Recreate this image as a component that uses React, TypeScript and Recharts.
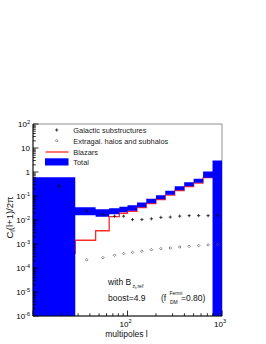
import React from "react";
import {
  ComposedChart,
  Area,
  Scatter,
  XAxis,
  YAxis,
  ReferenceArea,
} from "recharts";

// multipole bin edges: width 18 up to l=100, then 0.1 dex
const binEdges = [10, 28, 46, 64, 82, 100, 126, 158, 200, 251, 316, 398, 501, 631, 794, 1000];

// Total: blue error band, lower / upper edge per bin
const totalHigh = [0.61, 0.034, 0.028, 0.031, 0.036, 0.041, 0.053, 0.077, 0.108, 0.167, 0.257, 0.378, 0.528, 1.04, 2.98];
const totalLow = [1e-8, 0.0158, 0.0137, 0.0174, 0.0211, 0.0244, 0.0341, 0.0501, 0.0736, 0.1135, 0.175, 0.257, 0.36, 0.582, 1e-8];

// Blazars histogram (red)
const blazars = [4.1e-4, 1.43e-3, 3.56e-3, 0.0137, 0.0191, 0.0232, 0.0325, 0.0478, 0.0702, 0.108, 0.167, 0.245, 0.344, 0.58, 1.0];
const blazarsEnd = 1.2e-5;

// markers at bin centres
const galactic = [0.265, 0.024, 0.0169, 0.0144, 0.0144, 0.0104, 0.0104, 0.0112, 0.0128, 0.0132, 0.0145, 0.0152, 0.0152, 0.0152, 0.0152];
const extragal = [null, 2.2e-4, 2.7e-4, 3.4e-4, 4.0e-4, 4.5e-4, 5.0e-4, 5.8e-4, 6.4e-4, 6.8e-4, 7.5e-4, 8.0e-4, 8.6e-4, 9.2e-4, 9.5e-4];

// axis ticks
const xMajor = [10, 100, 1000];
const xLabels: Record<number, string> = { 100: "2", 1000: "3" };
const yExponents = [-6, -5, -4, -3, -2, -1, 0, 1, 2];

const FONT = "'Liberation Sans', Arial, Helvetica, sans-serif";

const xTicks: number[] = [];
for (let k = 1; k <= 3; k++) {
  for (let m = 1; m <= 9; m++) {
    if (k === 3 && m > 1) break;
    xTicks.push(m * Math.pow(10, k));
  }
}
const yTicks: number[] = [];
yExponents.forEach((k) => {
  yTicks.push(parseFloat(Math.pow(10, k).toPrecision(2)));
  if (k < 2) {
    for (let m = 2; m <= 9; m++) yTicks.push(parseFloat((m * Math.pow(10, k)).toPrecision(2)));
  }
});

const last = totalHigh.length - 1;
const bandRows = binEdges.map((l, i) => {
  const k = Math.min(i, last);
  return { l, band: [totalLow[k], totalHigh[k]] };
});
const blazarRows = [
  ...binEdges.map((l, i) => ({ l, v: blazars[Math.min(i, last)] })),
  { l: binEdges[binEdges.length - 1], v: blazarsEnd },
];
const centers = binEdges.slice(0, -1).map((lo, i) => (lo + binEdges[i + 1]) / 2);
const galRows = centers.map((l, i) => ({ l, v: galactic[i] }));
const egRows = centers
  .map((l, i) => ({ l, v: extragal[i] }))
  .filter((r) => r.v != null);

const isDecade = (v: number) => Math.abs(Math.log10(v) - Math.round(Math.log10(v))) < 1e-6;

const XTick = (props: any) => {
  const { x, y, payload } = props;
  const v = payload.value;
  const major = xMajor.includes(v);
  const exp = xLabels[v];
  return (
    <g>
      <line x1={x} x2={x} y1={y} y2={y - (major ? 5.5 : 2.8)} stroke="#000" strokeWidth={0.8} />
      {exp && (
        <text x={x - 2} y={y + 10.5} textAnchor="middle" fontFamily={FONT} fontSize={8} fill="#000">
          10
          <tspan fontSize={5.5} dy={-3.5}>{exp}</tspan>
        </text>
      )}
    </g>
  );
};

const YTick = (props: any) => {
  const { x, y, payload } = props;
  const v = payload.value;
  const major = isDecade(v);
  const k = Math.round(Math.log10(v));
  let label: React.ReactNode = null;
  if (major) {
    if (k === 0) label = "1";
    else if (k === 1) label = "10";
    else
      label = (
        <>
          10
          <tspan fontSize={5.5} dy={-3.5}>{String(k)}</tspan>
        </>
      );
  }
  return (
    <g>
      <line x1={x} x2={x + (major ? 5.5 : 2.8)} y1={y} y2={y} stroke="#000" strokeWidth={0.8} />
      {label && (
        <text x={x - 3} y={y + 3} textAnchor="end" fontFamily={FONT} fontSize={8} fill="#000">
          {label}
        </text>
      )}
    </g>
  );
};

const Plus = (p: any) => (
  <path d={`M${p.cx - 1.6},${p.cy}H${p.cx + 1.6}M${p.cx},${p.cy - 1.6}V${p.cy + 1.6}`} stroke="#111" strokeWidth={0.8} />
);
const Diamond = (p: any) => (
  <path
    d={`M${p.cx},${p.cy - 1.3}L${p.cx + 1.3},${p.cy}L${p.cx},${p.cy + 1.3}L${p.cx - 1.3},${p.cy}Z`}
    fill="none"
    stroke="#555"
    strokeWidth={0.7}
  />
);

export default function App() {
  return (
    <div style={{ position: "absolute", left: 0, top: 0, width: 266, height: 344, background: "#fff" }}>
      <ComposedChart width={266} height={344} margin={{ top: 124, right: 44, bottom: 0, left: 0 }}>
        <XAxis
          dataKey="l"
          type="number"
          scale="log"
          domain={[10, 1000]}
          allowDataOverflow
          ticks={xTicks}
          interval={0}
          tickSize={0}
          tickMargin={0}
          tickLine={false}
          tick={<XTick />}
          height={28}
          axisLine={{ stroke: "#000", strokeWidth: 0.9 }}
        />
        <YAxis
          type="number"
          scale="log"
          domain={[1e-6, 100]}
          allowDataOverflow
          ticks={yTicks}
          interval={0}
          tickSize={0}
          tickMargin={0}
          tickLine={false}
          tick={<YTick />}
          width={33}
          axisLine={{ stroke: "#000", strokeWidth: 0.9 }}
        />
        <ReferenceArea x1={10} x2={1000} y1={1e-6} y2={100} fill="none" stroke="#777" strokeWidth={0.8} />
        {/* blazars: outline only, drawn underneath the total band */}
        <Area
          data={blazarRows}
          dataKey="v"
          type="stepAfter"
          fill="none"
          stroke="#ff2a2a"
          strokeWidth={1.3}
          dot={false}
          activeDot={false}
          isAnimationActive={false}
        />
        <Area
          data={bandRows}
          dataKey="band"
          type="stepAfter"
          fill="#0000ff"
          fillOpacity={1}
          stroke="none"
          isAnimationActive={false}
        />
        <Scatter data={galRows} dataKey="v" shape={<Plus />} isAnimationActive={false} />
        <Scatter data={egRows} dataKey="v" shape={<Diamond />} isAnimationActive={false} />
      </ComposedChart>

      <svg
        width={266}
        height={344}
        style={{ position: "absolute", left: 0, top: 0, pointerEvents: "none" }}
        fontFamily={FONT}
      >
        {/* legend */}
        <path d="M55.1,130H58.3M56.7,128.4V131.6" stroke="#111" strokeWidth={0.8} />
        <text x={73.3} y={133} fontSize={7.4} fill="#222">Galactic substructures</text>
        <path d="M56.7,139.4L58,140.7L56.7,142L55.4,140.7Z" fill="none" stroke="#555" strokeWidth={0.7} />
        <text x={73.3} y={143.5} fontSize={7.4} fill="#222">Extragal. halos and subhalos</text>
        <line x1={45.5} x2={68.5} y1={152} y2={152} stroke="#ff2a2a" strokeWidth={1.3} />
        <text x={73.3} y={154.5} fontSize={7.4} fill="#222">Blazars</text>
        <rect x={45} y={158.3} width={23.5} height={7.2} fill="#0000ff" />
        <text x={73.3} y={164.8} fontSize={7.4} fill="#222">Total</text>

        {/* annotation */}
        <text x={108} y={284.5} fontSize={8.5} fill="#111">with B</text>
        <text x={132.5} y={287.5} fontSize={5} fill="#111">
          z<tspan fontSize={3.8} dy={1}>t</tspan>
          <tspan dy={-1}>,ref</tspan>
        </text>
        <text x={108} y={301} fontSize={8.5} fill="#111">boost=4.9</text>
        <text x={161} y={301} fontSize={8.5} fill="#111">(f</text>
        <text x={169.5} y={295} fontSize={5} fill="#111">Fermi</text>
        <text x={170} y={303.5} fontSize={5} fill="#111">DM</text>
        <text x={181} y={301} fontSize={8.5} fill="#111">=0.80)</text>

        {/* axis titles */}
        <text x={126.5} y={337} fontSize={8.5} textAnchor="middle" fill="#111">multipoles l</text>
        <text
          transform="translate(13,217.5) rotate(-90)"
          x={0}
          y={0}
          fontSize={9.5}
          textAnchor="middle"
          fill="#111"
        >
          C<tspan fontSize={7} dy={1.5}>l</tspan>
          <tspan dy={-1.5}>(l+1)/2π</tspan>
        </text>
      </svg>
    </div>
  );
}
